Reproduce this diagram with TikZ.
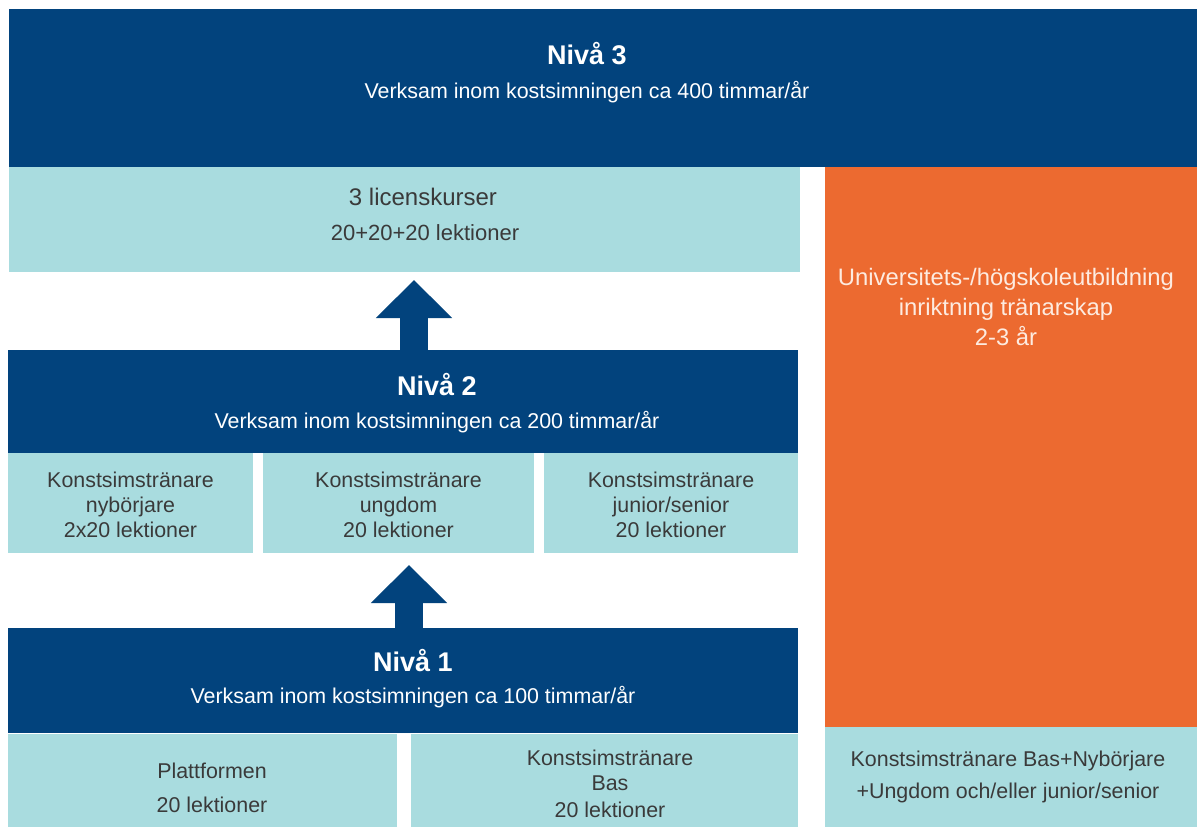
\documentclass[tikz,border=0pt]{standalone}
\usepackage{fontspec}
\setmainfont{Liberation Sans}
\usetikzlibrary{arrows.meta}
\definecolor{dblue}{HTML}{02437D}
\definecolor{lcyan}{HTML}{A9DCDF}
\definecolor{orng}{HTML}{EC6A30}
\definecolor{tgray}{HTML}{3A3A3A}
\definecolor{owhite}{HTML}{FDEBE0}
\begin{document}
\begin{tikzpicture}[x=1pt,y=-1pt,
  blk/.style={inner sep=0pt, outer sep=0pt, draw=none, anchor=north west},
  darkbox/.style={blk, fill=dblue},
  lightbox/.style={blk, fill=lcyan},
  orangebox/.style={blk, fill=orng},
  ttl/.style={anchor=base, inner sep=0pt, text=white, font=\fontsize{27}{30}\selectfont\bfseries},
  subttl/.style={anchor=base, inner sep=0pt, text=white, font=\fontsize{21.4}{25}\selectfont},
  ltxt/.style={anchor=base, inner sep=0pt, text=tgray, font=\fontsize{21.4}{25}\selectfont},
  otxt/.style={anchor=base, inner sep=0pt, text=owhite, font=\fontsize{23.8}{28}\selectfont},
  bigarrow/.style={draw=dblue, line width=28pt, -{Triangle[width=74pt,length=38pt]}}
]
\useasboundingbox (0,0) rectangle (1197,827);
\fill[white] (0,0) rectangle (1197,827);

% Level 3
\node[darkbox, minimum width=1188pt, minimum height=158pt] (n3) at (9,9) {};
\node[ttl] (n3t) at (587,64) {Nivå 3};
\node[subttl] (n3s) at (587,98) {Verksam inom kostsimningen ca 400 timmar/år};

\node[lightbox, minimum width=791pt, minimum height=105pt] (lic) at (9,167) {};
\node[ltxt, font=\fontsize{24}{28}\selectfont] (lic1) at (423,205) {3 licenskurser};
\node[ltxt, font=\fontsize{22}{26}\selectfont] (lic2) at (425,240) {20+20+20 lektioner};

\node[orangebox, minimum width=372pt, minimum height=560pt] (uni) at (825,167) {};
\node[otxt] (uni1) at (1006,285) {Universitets-/högskoleutbildning};
\node[otxt] (uni2) at (1006,315) {inriktning tränarskap};
\node[otxt] (uni3) at (1006,345) {2-3 år};

\node[lightbox, minimum width=372pt, minimum height=100pt] (kbn) at (825,727) {};
\node[ltxt] (kbn1) at (1008,766) {Konstsimstränare Bas+Nybörjare};
\node[ltxt] (kbn2) at (1008,798) {+Ungdom och/eller junior/senior};

% Level 2
\node[darkbox, minimum width=790pt, minimum height=103pt] (n2) at (8,350) {};
\node[ttl] (n2t) at (437,395) {Nivå 2};
\node[subttl] (n2s) at (437,428) {Verksam inom kostsimningen ca 200 timmar/år};

\node[lightbox, minimum width=245pt, minimum height=100pt] (k1) at (8,453) {};
\node[lightbox, minimum width=271pt, minimum height=100pt] (k2) at (263,453) {};
\node[lightbox, minimum width=254pt, minimum height=100pt] (k3) at (544,453) {};
\node[ltxt] (k1a) at (k1.center |- 0,487) {Konstsimstränare};
\node[ltxt] (k1b) at (k1.center |- 0,512) {nybörjare};
\node[ltxt] (k1c) at (k1.center |- 0,537) {2x20 lektioner};
\node[ltxt] (k2a) at (k2.center |- 0,487) {Konstsimstränare};
\node[ltxt] (k2b) at (k2.center |- 0,512) {ungdom};
\node[ltxt] (k2c) at (k2.center |- 0,537) {20 lektioner};
\node[ltxt] (k3a) at (k3.center |- 0,487) {Konstsimstränare};
\node[ltxt] (k3b) at (k3.center |- 0,512) {junior/senior};
\node[ltxt] (k3c) at (k3.center |- 0,537) {20 lektioner};

% Level 1
\node[darkbox, minimum width=790pt, minimum height=105pt] (n1) at (8,628) {};
\node[ttl] (n1t) at (413,671) {Nivå 1};
\node[subttl] (n1s) at (413,703) {Verksam inom kostsimningen ca 100 timmar/år};

\node[lightbox, minimum width=389pt, minimum height=93pt] (pl) at (8,734) {};
\node[lightbox, minimum width=387pt, minimum height=93pt] (bas) at (411,734) {};
\node[ltxt] (pl1) at (212,778) {Plattformen};
\node[ltxt] (pl2) at (212,812) {20 lektioner};
\node[ltxt] (bas1) at (610,765) {Konstsimstränare};
\node[ltxt] (bas2) at (610,790) {Bas};
\node[ltxt] (bas3) at (610,817) {20 lektioner};

% Arrows
\coordinate (a1tip) at (414,280);
\coordinate (a2tip) at (409,565);
\draw[bigarrow] (n2.north -| a1tip) -- (a1tip);
\draw[bigarrow] (n1.north -| a2tip) -- (a2tip);
\end{tikzpicture}
\end{document}
